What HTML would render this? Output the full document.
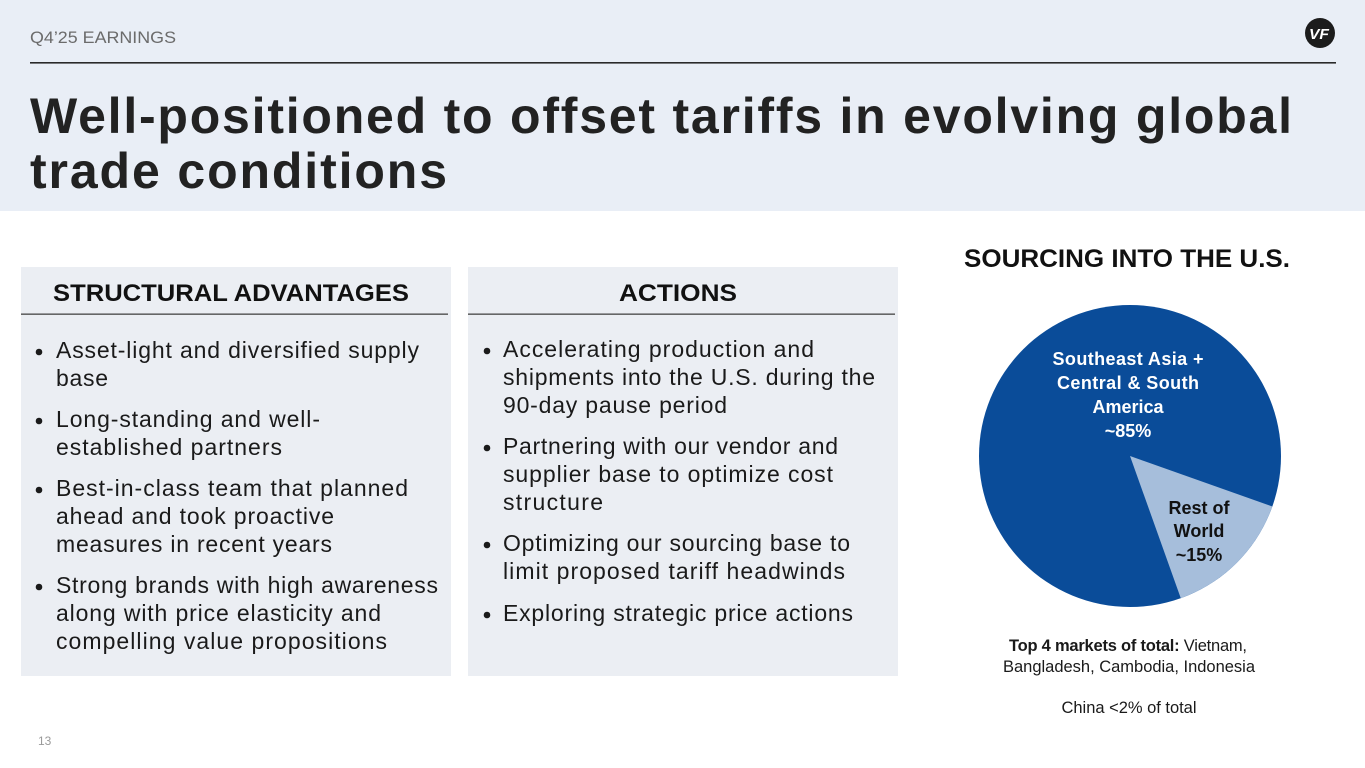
<!DOCTYPE html>
<html>
<head>
<meta charset="utf-8">
<style>
  html,body{margin:0;padding:0;background:#fff;}
  svg{display:block;}
  text{font-family:"Liberation Sans", sans-serif;}
</style>
</head>
<body>
<svg width="1365" height="768" viewBox="0 0 1365 768" xmlns="http://www.w3.org/2000/svg">
  <!-- header band -->
  <rect x="0" y="0" width="1365" height="211" fill="#E9EEF6"/>
  <text x="30" y="43" font-size="17" fill="#6b6b6b" textLength="146" lengthAdjust="spacingAndGlyphs">Q4’25 EARNINGS</text>
  <rect x="30" y="62" width="1306" height="1.6" fill="#2a2a2a"/>
  <!-- logo -->
  <circle cx="1320" cy="33" r="15" fill="#1c1c1c"/>
  <text x="1319" y="39" font-size="15" font-weight="bold" font-style="italic" fill="#fff" text-anchor="middle" textLength="20" lengthAdjust="spacingAndGlyphs">VF</text>

  <!-- title -->
  <text x="30" y="133" font-size="50" font-weight="bold" fill="#222" textLength="1262" lengthAdjust="spacing">Well-positioned to offset tariffs in evolving global</text>
  <text x="30" y="188" font-size="50" font-weight="bold" fill="#222" textLength="417" lengthAdjust="spacing">trade conditions</text>

  <!-- left box -->
  <rect x="21" y="267" width="430" height="409" fill="#EBEEF3"/>
  <text x="53" y="301" font-size="24" font-weight="bold" fill="#111" textLength="356" lengthAdjust="spacingAndGlyphs">STRUCTURAL ADVANTAGES</text>
  <rect x="21" y="313.5" width="427" height="1.3" fill="#444"/>
  <g font-size="23" fill="#1a1a1a">
    <circle cx="39" cy="352" r="3.3" fill="#1a1a1a"/>
    <text x="56" y="358" textLength="363" lengthAdjust="spacing">Asset-light and diversified supply</text>
    <text x="56" y="386" textLength="52" lengthAdjust="spacing">base</text>
    <circle cx="39" cy="421" r="3.3" fill="#1a1a1a"/>
    <text x="56" y="427" textLength="264" lengthAdjust="spacing">Long-standing and well-</text>
    <text x="56" y="455" textLength="226" lengthAdjust="spacing">established partners</text>
    <circle cx="39" cy="490" r="3.3" fill="#1a1a1a"/>
    <text x="56" y="496" textLength="352" lengthAdjust="spacing">Best-in-class team that planned</text>
    <text x="56" y="524" textLength="278" lengthAdjust="spacing">ahead and took proactive</text>
    <text x="56" y="552" textLength="276" lengthAdjust="spacing">measures in recent years</text>
    <circle cx="39" cy="587" r="3.3" fill="#1a1a1a"/>
    <text x="56" y="593" textLength="382" lengthAdjust="spacing">Strong brands with high awareness</text>
    <text x="56" y="621" textLength="325" lengthAdjust="spacing">along with price elasticity and</text>
    <text x="56" y="649" textLength="331" lengthAdjust="spacing">compelling value propositions</text>
  </g>

  <!-- right box -->
  <rect x="468" y="267" width="430" height="409" fill="#EBEEF3"/>
  <text x="619" y="301" font-size="24" font-weight="bold" fill="#111" textLength="118" lengthAdjust="spacingAndGlyphs">ACTIONS</text>
  <rect x="468" y="313.5" width="427" height="1.3" fill="#444"/>
  <g font-size="23" fill="#1a1a1a">
    <circle cx="487" cy="351" r="3.3" fill="#1a1a1a"/>
    <text x="503" y="357" textLength="311" lengthAdjust="spacing">Accelerating production and</text>
    <text x="503" y="385" textLength="372" lengthAdjust="spacing">shipments into the U.S. during the</text>
    <text x="503" y="413" textLength="224" lengthAdjust="spacing">90-day pause period</text>
    <circle cx="487" cy="448" r="3.3" fill="#1a1a1a"/>
    <text x="503" y="454" textLength="335" lengthAdjust="spacing">Partnering with our vendor and</text>
    <text x="503" y="482" textLength="330" lengthAdjust="spacing">supplier base to optimize cost</text>
    <text x="503" y="510" textLength="100" lengthAdjust="spacing">structure</text>
    <circle cx="487" cy="545" r="3.3" fill="#1a1a1a"/>
    <text x="503" y="551" textLength="347" lengthAdjust="spacing">Optimizing our sourcing base to</text>
    <text x="503" y="579" textLength="342" lengthAdjust="spacing">limit proposed tariff headwinds</text>
    <circle cx="487" cy="615" r="3.3" fill="#1a1a1a"/>
    <text x="503" y="621" textLength="350" lengthAdjust="spacing">Exploring strategic price actions</text>
  </g>

  <!-- sourcing -->
  <text x="964" y="267" font-size="25" font-weight="bold" fill="#111" textLength="326" lengthAdjust="spacingAndGlyphs">SOURCING INTO THE U.S.</text>

  <!-- pie: center (1130,456), r 151 -->
  <circle cx="1130" cy="456" r="151" fill="#0A4C99"/>
  <path d="M1130,456 L1272.3,506.5 A151,151 0 0 1 1180.8,598.2 Z" fill="#A6BEDB"/>

  <g font-size="18" font-weight="bold" fill="#ffffff" text-anchor="middle">
    <text x="1128" y="365" textLength="151" lengthAdjust="spacing">Southeast Asia +</text>
    <text x="1128" y="389" textLength="142" lengthAdjust="spacing">Central &amp; South</text>
    <text x="1128" y="413">America</text>
    <text x="1128" y="437">~85%</text>
  </g>
  <g font-size="18" font-weight="bold" fill="#111" text-anchor="middle">
    <text x="1199" y="514">Rest of</text>
    <text x="1199" y="537">World</text>
    <text x="1199" y="561">~15%</text>
  </g>

  <g font-size="16.5" fill="#1a1a1a" text-anchor="middle">
    <text x="1128" y="651" textLength="238" lengthAdjust="spacing"><tspan font-weight="bold">Top 4 markets of total:</tspan> Vietnam,</text>
    <text x="1129" y="672" textLength="252" lengthAdjust="spacing">Bangladesh, Cambodia, Indonesia</text>
    <text x="1129" y="713" textLength="135" lengthAdjust="spacing">China &lt;2% of total</text>
  </g>

  <text x="38" y="745" font-size="12" fill="#9a9a9a">13</text>
</svg>
</body>
</html>
